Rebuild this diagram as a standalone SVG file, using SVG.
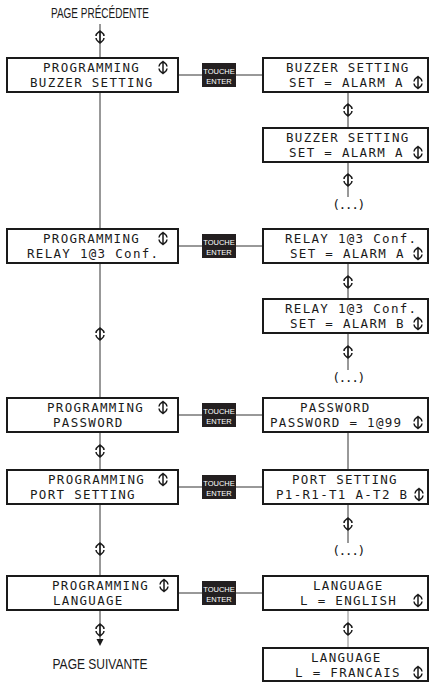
<svg xmlns="http://www.w3.org/2000/svg" width="429" height="682" viewBox="0 0 429 682">
<style>
.box{fill:#fff;stroke:#1a1a1a;stroke-width:2}
.lcd{font-family:"DejaVu Sans Mono",monospace;font-size:12.5px;letter-spacing:1.3px;fill:#1a1a1a}
.dots{font-family:"DejaVu Sans Mono",monospace;font-size:13px;letter-spacing:-1.5px;fill:#1a1a1a;text-anchor:middle}
.ttl{font-family:"Liberation Sans",Arial,sans-serif;font-size:14px;fill:#1a1a1a}
.key rect{fill:#231f20}
.key text{font-family:"Liberation Sans",Arial,sans-serif;font-size:7.5px;fill:#fff;text-anchor:middle}
.conn{stroke:#333;stroke-width:1;fill:none}
.ud{stroke:#1a1a1a;stroke-width:1.5;fill:none}
</style>
<defs>
<g id="ud"><path class="ud" d="M0,-6V6M-4,-1C-4,-4 -1.5,-4.5 0,-6C1.5,-4.5 4,-4 4,-1M-4,1C-4,4 -1.5,4.5 0,6C1.5,4.5 4,4 4,1"/></g>
<marker id="ah" markerUnits="userSpaceOnUse" markerWidth="8" markerHeight="8" refX="1" refY="4" orient="auto"><path d="M0,0.5L7,4L0,7.5z" fill="#1a1a1a"/></marker>
</defs>

<g id="connectors">
<path class="conn" d="M100,24V640" marker-end="url(#ah)"/>
<path class="conn" d="M178,75H202M236,75H263"/>
<path class="conn" d="M178,246H202M236,246H263"/>
<path class="conn" d="M178,415H202M236,415H263"/>
<path class="conn" d="M178,487H202M236,487H263"/>
<path class="conn" d="M178,593H202M236,593H263"/>
<path class="conn" d="M348,92V197"/>
<path class="conn" d="M348,263V370"/>
<path class="conn" d="M348,432V470"/>
<path class="conn" d="M348,504V543"/>
<path class="conn" d="M348,610V648" style="stroke:#888"/>
</g>

<g id="scroll-marks">
<use href="#ud" x="100" y="37"/>
<use href="#ud" x="100" y="334"/>
<use href="#ud" x="100" y="451"/>
<use href="#ud" x="100" y="549"/>
<use href="#ud" x="100" y="630"/>
<use href="#ud" x="348" y="110"/>
<use href="#ud" x="348" y="180"/>
<use href="#ud" x="348" y="282"/>
<use href="#ud" x="348" y="352"/>
<use href="#ud" x="348" y="524"/>
<use href="#ud" x="348" y="629"/>
</g>

<g id="page-precedente"><text class="ttl" x="100" y="18" text-anchor="middle" textLength="98" lengthAdjust="spacingAndGlyphs">PAGE PRÉCÉDENTE</text></g>
<g id="page-suivante"><text class="ttl" x="100" y="669" text-anchor="middle" textLength="95" lengthAdjust="spacingAndGlyphs">PAGE SUIVANTE</text></g>

<g id="prog-buzzer">
<rect class="box" x="7" y="58" width="171" height="34"/>
<text class="lcd" x="43" y="72">PROGRAMMING</text><use href="#ud" x="163" y="67.5"/>
<text class="lcd" x="30" y="87">BUZZER SETTING</text>
</g>
<g id="prog-relay">
<rect class="box" x="7" y="229" width="171" height="34"/>
<text class="lcd" x="43" y="243">PROGRAMMING</text><use href="#ud" x="163" y="238.5"/>
<text class="lcd" x="27" y="258">RELAY 1@3 Conf.</text>
</g>
<g id="prog-password">
<rect class="box" x="7" y="398" width="171" height="34"/>
<text class="lcd" x="47" y="412">PROGRAMMING</text><use href="#ud" x="163" y="407.5"/>
<text class="lcd" x="53" y="427">PASSWORD</text>
</g>
<g id="prog-port">
<rect class="box" x="7" y="470" width="171" height="34"/>
<text class="lcd" x="48" y="484">PROGRAMMING</text><use href="#ud" x="163" y="479.5"/>
<text class="lcd" x="30" y="499">PORT SETTING</text>
</g>
<g id="prog-language">
<rect class="box" x="7" y="576" width="171" height="34"/>
<text class="lcd" x="52" y="590">PROGRAMMING</text><use href="#ud" x="164" y="585.5"/>
<text class="lcd" x="53" y="605">LANGUAGE</text>
</g>

<g id="key1" class="key"><rect x="202" y="63" width="34" height="24"/><text x="219" y="73.5">TOUCHE</text><text x="219" y="83.5">ENTER</text></g>
<g id="key2" class="key"><rect x="202" y="234" width="34" height="24"/><text x="219" y="244.5">TOUCHE</text><text x="219" y="254.5">ENTER</text></g>
<g id="key3" class="key"><rect x="202" y="403" width="34" height="24"/><text x="219" y="413.5">TOUCHE</text><text x="219" y="423.5">ENTER</text></g>
<g id="key4" class="key"><rect x="202" y="475" width="34" height="24"/><text x="219" y="485.5">TOUCHE</text><text x="219" y="495.5">ENTER</text></g>
<g id="key5" class="key"><rect x="202" y="581" width="34" height="24"/><text x="219" y="591.5">TOUCHE</text><text x="219" y="601.5">ENTER</text></g>

<g id="buzzer-a1">
<rect class="box" x="263" y="58" width="165" height="34"/>
<text class="lcd" x="286" y="72">BUZZER SETTING</text>
<text class="lcd" x="289" y="87">SET = ALARM A</text><use href="#ud" x="418" y="82.5"/>
</g>
<g id="buzzer-a2">
<rect class="box" x="263" y="128" width="165" height="34"/>
<text class="lcd" x="286" y="142">BUZZER SETTING</text>
<text class="lcd" x="289" y="157">SET = ALARM A</text><use href="#ud" x="418" y="152.5"/>
</g>
<g id="buzzer-more"><text class="dots" x="348" y="209">(...)</text></g>

<g id="relay-a">
<rect class="box" x="263" y="229" width="165" height="34"/>
<text class="lcd" x="285" y="243">RELAY 1@3 Conf.</text>
<text class="lcd" x="290" y="258">SET = ALARM A</text><use href="#ud" x="418" y="253.5"/>
</g>
<g id="relay-b">
<rect class="box" x="263" y="299" width="165" height="34"/>
<text class="lcd" x="285" y="313">RELAY 1@3 Conf.</text>
<text class="lcd" x="290" y="328">SET = ALARM B</text><use href="#ud" x="418" y="323.5"/>
</g>
<g id="relay-more"><text class="dots" x="348" y="382">(...)</text></g>

<g id="password">
<rect class="box" x="263" y="398" width="165" height="34"/>
<text class="lcd" x="300" y="412">PASSWORD</text>
<text class="lcd" x="270" y="427">PASSWORD = 1@99</text><use href="#ud" x="418" y="422.5"/>
</g>
<g id="port">
<rect class="box" x="263" y="470" width="165" height="34"/>
<text class="lcd" x="292" y="484">PORT SETTING</text>
<text class="lcd" x="276" y="499">P1-R1-T1 A-T2 B</text><use href="#ud" x="419" y="494.5"/>
</g>
<g id="port-more"><text class="dots" x="348" y="555">(...)</text></g>

<g id="language-en">
<rect class="box" x="263" y="576" width="165" height="34"/>
<text class="lcd" x="313" y="590">LANGUAGE</text>
<text class="lcd" x="300" y="605">L = ENGLISH</text><use href="#ud" x="418" y="600.5"/>
</g>
<g id="language-fr">
<rect class="box" x="263" y="648" width="165" height="33"/>
<text class="lcd" x="311" y="662">LANGUAGE</text>
<text class="lcd" x="295" y="677">L = FRANCAIS</text><use href="#ud" x="418" y="672.5"/>
</g>
</svg>
